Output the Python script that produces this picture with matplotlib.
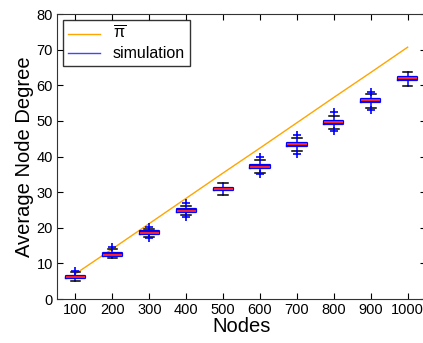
import matplotlib
matplotlib.use('Agg')
import matplotlib.pyplot as plt

plt.rcParams['font.family'] = ['Liberation Sans', 'DejaVu Sans']
plt.rcParams['mathtext.default'] = 'regular'

nodes = [100, 200, 300, 400, 500, 600, 700, 800, 900, 1000]
# theoretical average degree (pi bar)
pi_bar = [7.1, 14.1, 21.2, 28.3, 35.4, 42.4, 49.5, 56.6, 63.6, 70.7]
# simulation box stats
med = [6.2, 12.5, 18.6, 24.8, 30.9, 37.2, 43.4, 49.6, 55.8, 62.0]
q1 = [5.8, 12.1, 18.2, 24.4, 30.5, 36.8, 43.0, 49.2, 55.4, 61.6]
q3 = [6.6, 12.9, 19.0, 25.2, 31.3, 37.6, 43.8, 50.0, 56.2, 62.4]
whislo = [5.1, 11.4, 17.4, 23.6, 29.2, 35.5, 41.5, 47.7, 53.7, 59.8]
whishi = [7.5, 14.0, 19.8, 26.2, 32.5, 39.0, 45.3, 51.4, 57.7, 63.8]
fliers = [[8.0], [14.5], [17.1, 20.3], [23.1, 27.0], [], [35.1, 39.9],
          [40.7, 46.0], [47.2, 52.4], [53.0, 58.2], []]

fig = plt.figure(figsize=(4.23, 3.43), dpi=100)
ax = fig.add_axes([0.1348, 0.128, 0.8725, 0.831])

ax.plot(nodes, pi_bar, color='#ffa500', lw=1.0, label=r'$\overline{\pi}$')

stats = []
for i in range(len(nodes)):
    stats.append({'med': med[i], 'q1': q1[i], 'q3': q3[i],
                  'whislo': whislo[i], 'whishi': whishi[i], 'fliers': fliers[i]})
ax.bxp(stats, positions=nodes, widths=52, manage_ticks=False,
       boxprops=dict(color='#0000ff', lw=1.6),
       medianprops=dict(color='#ff2020', lw=1.4),
       whiskerprops=dict(color='#0000ff', lw=1.1),
       capprops=dict(color='#000000', lw=1.1),
       flierprops=dict(marker='+', markeredgecolor='#0000ff', markersize=6, mew=1.2))
ax.plot([], [], color='#4444ff', lw=1.0, label='simulation')

ax.set_xlim(50, 1050)
ax.set_ylim(0, 80)
ax.set_xticks(nodes)
ax.set_yticks(range(0, 81, 10))
ax.tick_params(direction='in', top=True, right=True, length=4, labelsize=10.5, pad=3)
for s in ax.spines.values():
    s.set_color('#333333')
ax.set_xlabel('Nodes', fontsize=14.5, labelpad=0)
ax.set_ylabel('Average Node Degree', fontsize=14.5, labelpad=2)

leg = ax.legend(loc='upper left', fontsize=11.5, fancybox=False, edgecolor='black',
                handlelength=2.0, borderpad=0.3, labelspacing=0.25,
                bbox_to_anchor=(0.0, 1.0), borderaxespad=0.4)
leg.get_frame().set_linewidth(1.0)

fig.savefig('out.png', dpi=100)
